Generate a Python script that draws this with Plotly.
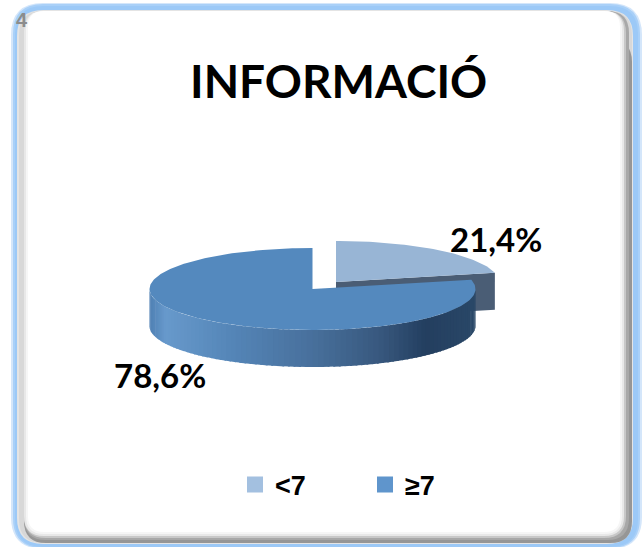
import numpy as np
import plotly.graph_objects as go

categories = ["<7", "≥7"]
values = [21.4, 78.6]
value_labels = ["21,4%", "78,6%"]
title_text = "INFORMACIÓ"
top_colors = ["#98B5D5", "#5489BE"]
legend_colors = ["#A3C0E0", "#5F95CC"]

W, H = 642, 547
CX, CY, RX, RY, DEPTH = 312.5, 289.0, 163.0, 41.0, 37.0
DX, DY = 23.5, -7.0
frac = values[0] / sum(values)
split = 2 * np.pi * frac


def ell(t, cx=CX, cy=CY):
    return cx + RX * np.sin(t), cy - RY * np.cos(t)


def lerp_color(x):
    xs = [150, 165, 230, 312, 380, 425, 475]
    rs = [0x4F, 0x68, 0x55, 0x48, 0x38, 0x24, 0x2A]
    gs = [0x80, 0x9A, 0x86, 0x70, 0x58, 0x3F, 0x48]
    bs = [0xB4, 0xCC, 0xB8, 0x9C, 0x7E, 0x60, 0x68]
    return "rgb(%d,%d,%d)" % (np.interp(x, xs, rs), np.interp(x, xs, gs), np.interp(x, xs, bs))


fig = go.Figure()

# exploded slice: cut-plane wall, then top face
ax, ay = CX + DX, CY + DY
tx, ty = ell(split, ax, ay)
fig.add_trace(go.Scatter(x=[ax, tx, tx, ax, ax], y=[ay, ty, ty + DEPTH, ay + DEPTH, ay],
                         fill="toself", fillcolor="#4A5D75", mode="lines", line=dict(width=0),
                         showlegend=False, hoverinfo="skip"))
t = np.linspace(0, split, 60)
ex, ey = ell(t, ax, ay)
fig.add_trace(go.Scatter(x=np.r_[ax, ex, ax], y=np.r_[ay, ey, ay], fill="toself",
                         fillcolor=top_colors[0], mode="lines", line=dict(width=0),
                         showlegend=False, hoverinfo="skip"))

# main slice: front wall in thin bands, then top face
edges = np.linspace(np.pi / 2, 3 * np.pi / 2, 91)
for a, b in zip(edges[:-1], edges[1:]):
    s = np.linspace(a, b + 0.012, 4)
    x1, y1 = ell(s)
    fig.add_trace(go.Scatter(x=np.r_[x1, x1[::-1], x1[0]], y=np.r_[y1, y1[::-1] + DEPTH, y1[0]],
                             fill="toself", fillcolor=lerp_color(x1.mean()), mode="lines",
                             line=dict(width=0), showlegend=False, hoverinfo="skip"))
t = np.linspace(split, 2 * np.pi, 240)
mx, my = ell(t)
fig.add_trace(go.Scatter(x=np.r_[CX, mx, CX], y=np.r_[CY, my, CY], fill="toself",
                         fillcolor=top_colors[1], mode="lines", line=dict(width=0),
                         showlegend=False, hoverinfo="skip"))

# legend entries
for name, col in zip(categories, legend_colors):
    fig.add_trace(go.Scatter(x=[None], y=[None], name=name, mode="markers",
                             marker=dict(symbol="square", size=16, color=col)))


def rrect(x0, y0, x1, y1, r):
    return (f"M{x0+r},{y0} L{x1-r},{y0} Q{x1},{y0} {x1},{y0+r} L{x1},{y1-r} Q{x1},{y1} {x1-r},{y1} "
            f"L{x0+r},{y1} Q{x0},{y1} {x0},{y1-r} L{x0},{y0+r} Q{x0},{y0} {x0+r},{y0} Z")


frame = [
    (11, 3, 642, 549, 32, "#D4E6FA"),
    (13, 4, 640, 548, 30, "#A9D0F8"),
    (15, 6, 638, 547, 28, "#9CC9F7"),
    (17, 10, 633, 544, 26, "#E4E4E4"),
    (19, 11, 632, 543, 24, "#D8D8D8"),
    (24, 40, 632, 543, 22, "#969696"),
    (24, 11, 629, 540, 22, "#A8A8A8"),
    (24, 11, 626, 538, 22, "#C8C8C8"),
    (24, 11, 624, 536, 20, "#E8E8E8"),
    (26, 11, 622, 534, 18, "#F6F6F6"),
    (28, 11, 620, 532, 16, "#FFFFFF"),
]
shapes = [dict(type="path", path=rrect(*f[:5]), fillcolor=f[5], line=dict(width=0),
               xref="x", yref="y", layer="below") for f in frame]

annotations = [
    dict(x=338, y=80.5, text=title_text, font=dict(family="Lato", size=46, color="#000000")),
    dict(x=496, y=238.5, text=value_labels[0], font=dict(family="Lato", size=33, color="#000000")),
    dict(x=160, y=375, text=value_labels[1], font=dict(family="Lato", size=33, color="#000000")),
    dict(x=22, y=20, text="4", font=dict(family="Liberation Sans", size=20, color="#8C8C8C")),
]
for a in annotations:
    a.update(xref="x", yref="y", showarrow=False, xanchor="center", yanchor="middle")
    a["text"] = f"<b>{a['text']}</b>"

fig.update_layout(
    width=W, height=H, margin=dict(l=0, r=0, t=0, b=0, pad=0, autoexpand=False),
    paper_bgcolor="#FFFFFF", plot_bgcolor="rgba(0,0,0,0)",
    xaxis=dict(range=[0, W], visible=False, fixedrange=True),
    yaxis=dict(range=[H, 0], visible=False, fixedrange=True),
    shapes=shapes, annotations=annotations,
    legend=dict(orientation="h", x=235 / W, y=1 - 485 / H, xanchor="left", yanchor="middle",
                entrywidth=85, entrywidthmode="pixels", itemclick=False, itemdoubleclick=False,
                font=dict(family="Liberation Sans", size=27, color="#000000", weight="bold"),
                bgcolor="rgba(0,0,0,0)", traceorder="normal"),
    hovermode=False,
)
fig.write_html("out.html", config={"displayModeBar": False},
               post_script="document.body.style.margin='0';document.body.style.overflow='hidden';")
